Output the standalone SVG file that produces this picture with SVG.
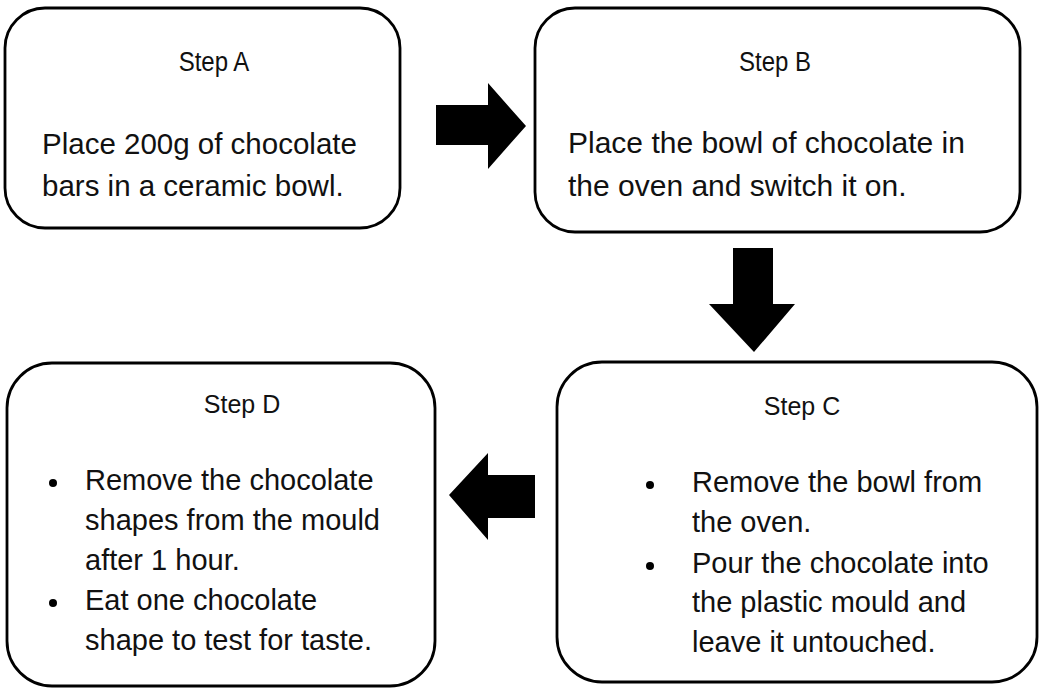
<svg xmlns="http://www.w3.org/2000/svg" width="1039" height="689" viewBox="0 0 1039 689">
<style>
.box{fill:#fff;stroke:#000;stroke-width:2.8}
.arr{fill:#000;stroke:none}
text{font-family:"Liberation Sans",Arial,sans-serif;fill:#111}
.h{font-size:24px;text-anchor:middle}
.h2{font-size:25px;text-anchor:middle}
.t{font-size:29.5px}
.t3{font-size:30px}
.t2{font-size:29px}
</style>
<rect width="1039" height="689" fill="#fff"/>
<g id="stepA">
<rect class="box" x="5" y="8" width="395" height="220" rx="40"/>
<text class="h" transform="translate(214,71) scale(1,1.12)">Step A</text>
<text class="t" x="42" y="154">Place 200g of chocolate</text>
<text class="t" x="42" y="196">bars in a ceramic bowl.</text>
</g>
<g id="stepB">
<rect class="box" x="535" y="8" width="485" height="224" rx="40"/>
<text class="h" transform="translate(775,71) scale(1,1.12)">Step B</text>
<text class="t3" x="568" y="153">Place the bowl of chocolate in</text>
<text class="t3" x="568" y="196">the oven and switch it on.</text>
</g>
<g id="stepC">
<rect class="box" x="557" y="362" width="480" height="320" rx="45"/>
<text class="h2" x="802" y="415">Step C</text>
<circle cx="650" cy="485" r="4"/>
<circle cx="650" cy="566" r="4"/>
<text class="t2" x="692" y="492">Remove the bowl from</text>
<text class="t2" x="692" y="532">the oven.</text>
<text class="t2" x="692" y="573">Pour the chocolate into</text>
<text class="t2" x="692" y="612">the plastic mould and</text>
<text class="t2" x="692" y="652">leave it untouched.</text>
</g>
<g id="stepD">
<rect class="box" x="7" y="363" width="428" height="323" rx="45"/>
<text class="h2" x="242" y="413">Step D</text>
<circle cx="53" cy="483" r="4"/>
<circle cx="53" cy="603" r="4"/>
<text class="t2" x="85" y="490">Remove the chocolate</text>
<text class="t2" x="85" y="530">shapes from the mould</text>
<text class="t2" x="85" y="570">after 1 hour.</text>
<text class="t2" x="85" y="610">Eat one chocolate</text>
<text class="t2" x="85" y="650">shape to test for taste.</text>
</g>
<g id="connectors">
<polygon class="arr" points="436,105 488,105 488,83 526,126 488,169 488,145 436,145"/>
<polygon class="arr" points="733,248 773,248 773,304 795,304 754,352 709,304 733,304"/>
<polygon class="arr" points="535,475 488,475 488,453 449,495 488,540 488,518 535,518"/>
</g>
</svg>
